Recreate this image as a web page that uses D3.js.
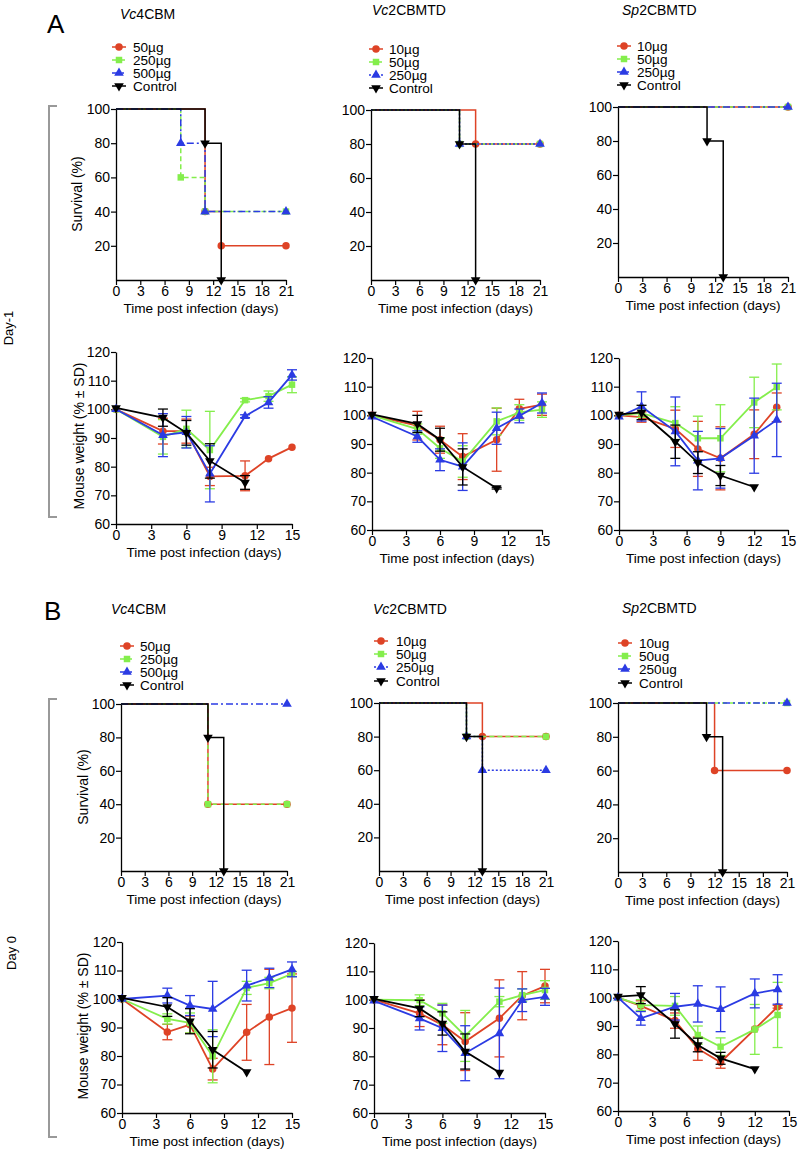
<!DOCTYPE html>
<html><head><meta charset="utf-8">
<script src="https://cdn.jsdelivr.net/npm/d3@7/dist/d3.min.js"></script>
<style>body{margin:0;background:#fff}</style>
</head><body>
<svg id="c" width="812" height="1160"></svg>
<script>
// ---------- DATA ----------
const seriesColors = ["#de4326", "#84ee4c", "#2b3be3", "#000000"];
const markerShapes = ["circle", "square", "triangle", "tdown"];

const survXTicks = [0, 3, 6, 9, 12, 15, 18, 21];
const survYTicks = [20, 40, 60, 80, 100];
const wtXTicks = [0, 3, 6, 9, 12, 15];
const wtYTicks = [60, 70, 80, 90, 100, 110, 120];

const titleItalic = ["Vc", "Vc", "Sp"];
const titleRest = ["4CBM", "2CBMTD", "2CBMTD"];

const legendA1 = ["50µg", "250µg", "500µg", "Control"];
const legendA2 = ["10µg", "50µg", "250µg", "Control"];
const legendA3 = ["10µg", "50µg", "250µg", "Control"];
const legendB1 = ["50µg", "250µg", "500µg", "Control"];
const legendB2 = ["10µg", "50µg", "250µg", "Control"];
const legendB3 = ["10ug", "50ug", "250ug", "Control"];

// survival (day, %) step points
const sA1_red = [[0,100],[11,40],[13,20],[21,20]];
const sA1_green = [[0,100],[8,60],[11,40],[21,40]];
const sA1_blue = [[0,100],[8,80],[11,40],[21,40]];
const sA1_ctrl = [[0,100],[11,80],[13,0]];

const sA2_red = [[0,100],[13,80],[21,80]];
const sA2_green = [[0,100],[11,80],[21,80]];
const sA2_blue = [[0,100],[11,80],[21,80]];
const sA2_ctrl = [[0,100],[11,80],[13,0]];

const sA3_red = [[0,100],[21,100]];
const sA3_green = [[0,100],[21,100]];
const sA3_blue = [[0,100],[21,100]];
const sA3_ctrl = [[0,100],[11,80],[13,0]];

const sB1_red = [[0,100],[11,40],[21,40]];
const sB1_green = [[0,100],[11,40],[21,40]];
const sB1_blue = [[0,100],[21,100]];
const sB1_ctrl = [[0,100],[11,80],[13,0]];

const sB2_red = [[0,100],[13,80],[21,80]];
const sB2_green = [[0,100],[11,80],[21,80]];
const sB2_blue = [[0,100],[11,80],[13,60],[21,60]];
const sB2_ctrl = [[0,100],[11,80],[13,0]];

const sB3_red = [[0,100],[12,60],[21,60]];
const sB3_green = [[0,100],[21,100]];
const sB3_blue = [[0,100],[21,100]];
const sB3_ctrl = [[0,100],[11,80],[13,0]];

// weight: days, means, SDs
const wDaysVc = [0, 4, 6, 8, 11, 13, 15];
const wDaysVcCtrl = [0, 4, 6, 8, 11];
const wDaysSp = [0, 2, 5, 7, 9, 12, 14];
const wDaysSpCtrl = [0, 2, 5, 7, 9, 12];

const wA1_red = [100, 92.4, 92.4, 76.6, 76.8, 82.8, 86.8];
const wA1_redSD = [0, 4.5, 4.2, 3.2, 5.2, 0, 0];
const wA1_green = [100, 90.4, 93.2, 85.8, 103.2, 104.6, 108.6];
const wA1_greenSD = [0, 6, 6.5, 13.5, 0.6, 1.8, 2.8];
const wA1_blue = [100, 91, 92, 77.5, 97.6, 102.4, 112];
const wA1_blueSD = [0, 7.5, 5.5, 9.8, 0.5, 2, 1.8];
const wA1_ctrl = [100.5, 97.1, 91.8, 82, 74.5];
const wA1_ctrlSD = [0, 3, 4.3, 6, 2.4];

const wA2_red = [100, 96.4, 91.5, 85.6, 91.5, 102.3, 103.7];
const wA2_redSD = [0, 5, 4.7, 8, 11, 3.3, 3.7];
const wA2_green = [100, 95.2, 88.5, 83.9, 97.9, 101, 102];
const wA2_greenSD = [0, 1.8, 3.5, 5.5, 4.7, 2.7, 2.7];
const wA2_blue = [99.5, 92.6, 84.5, 82.1, 95.5, 99.8, 104.3];
const wA2_blueSD = [0, 2, 3.8, 8.3, 5.6, 2.4, 3.5];
const wA2_ctrl = [100.3, 97, 91.5, 82, 74.6];
const wA2_ctrlSD = [0, 3, 4, 6.3, 0.3];

const wA3_red = [100, 99.4, 95.3, 88.3, 85, 93.4, 102.8];
const wA3_redSD = [0, 1.8, 6.5, 9.6, 11, 8.5, 5];
const wA3_green = [100, 100.8, 97.3, 92, 92, 104.5, 109.9];
const wA3_greenSD = [0, 1.5, 5.7, 7.7, 11.7, 8.8, 8];
const wA3_blue = [99.5, 103.1, 94.4, 84.2, 85, 92.9, 98.4];
const wA3_blueSD = [0, 5.1, 12, 10.2, 10.4, 13.1, 12.8];
const wA3_ctrl = [100.3, 101, 90.8, 83.5, 79, 75];
const wA3_ctrlSD = [0, 2.5, 5.8, 3.8, 3.5, 0];

const wB1_red = [100, 88.4, 91, 75.4, 88.3, 93.7, 96.8];
const wB1_redSD = [0, 2.7, 3, 3.8, 9.8, 16.7, 12];
const wB1_green = [100, 93, 91.6, 79.9, 103.9, 105.6, 108.8];
const wB1_greenSD = [0, 1.8, 3.5, 9.3, 2.3, 2, 0.9];
const wB1_blue = [100, 101.2, 97.7, 96.5, 104.7, 107.4, 110.4];
const wB1_blueSD = [0, 2.6, 3.5, 9.7, 5.4, 3.4, 2.6];
const wB1_ctrl = [100.4, 97.2, 92.2, 82.2, 74.4];
const wB1_ctrlSD = [0, 3.3, 4.4, 6.4, 0];

const wB2_red = [100, 95.2, 91.1, 85.2, 93.4, 101.4, 104.8];
const wB2_redSD = [0, 4.7, 7, 10.2, 13.6, 8.5, 5.9];
const wB2_green = [100, 99.8, 95.2, 87.2, 99.3, 101.6, 103.4];
const wB2_greenSD = [0, 1.9, 3.5, 9, 1.8, 2.2, 3.3];
const wB2_blue = [99.6, 93.4, 89.9, 81.1, 88.1, 99.8, 101];
const wB2_blueSD = [0, 4.1, 8.2, 9.7, 16, 4, 3];
const wB2_ctrl = [100.3, 96.9, 91.6, 81.7, 74.3];
const wB2_ctrlSD = [0, 2.9, 4.1, 6.2, 0];

const wB3_red = [100, 97.1, 91.9, 82, 77.2, 88.9, 96.8];
const wB3_redSD = [0, 1.8, 2.7, 4.1, 2.1, 0, 0.5];
const wB3_green = [100, 97.4, 97.1, 86.8, 82.7, 88.8, 93.9];
const wB3_greenSD = [0, 1.9, 3.3, 3.2, 3.1, 8.8, 11.5];
const wB3_blue = [100, 92.7, 96.8, 97.8, 95.9, 101.5, 102.9];
const wB3_blueSD = [0, 2.4, 4.7, 6.4, 7.9, 5.1, 5.2];
const wB3_ctrl = [100.4, 100.9, 90.7, 83.3, 78.6, 74.8];
const wB3_ctrlSD = [0, 3, 5, 2.4, 2.1, 0];

// ---------- RENDER ----------
const FONT = "'Liberation Sans', Arial, Helvetica, sans-serif";
const svg = d3.select("#c").attr("font-family", FONT);

function symPath(shape) {
  if (shape === "circle") return d3.symbol(d3.symbolCircle, 44)();
  if (shape === "square") return d3.symbol(d3.symbolSquare, 42)();
  return d3.symbol(d3.symbolTriangle, 40)();
}
function drawMarker(g, shape, cx, cy, color) {
  g.append("path").attr("d", symPath(shape))
    .attr("transform", `translate(${cx},${cy})` + (shape === "tdown" ? " rotate(180)" : ""))
    .attr("fill", color);
}
function styleAxis(sel) {
  sel.attr("font-family", FONT).attr("font-size", 14);
  sel.select(".domain").attr("stroke", "#000").attr("stroke-width", 1.3);
  sel.selectAll(".tick line").attr("stroke", "#000").attr("stroke-width", 1.2);
  sel.selectAll(".tick text").attr("fill", "#000");
}
function xLabel(g, p) {
  g.append("text").attr("x", (p.x0 + p.x1) / 2).attr("y", p.y0 + 33)
    .attr("text-anchor", "middle").attr("font-size", 13.6).text("Time post infection (days)");
}

function survPanel(p) {
  const x = d3.scaleLinear().domain([0, 21]).range([p.x0, p.x1]);
  const y = d3.scaleLinear().domain([0, 100]).range([p.y0, p.y1]);
  const g = svg.append("g");
  g.append("g").attr("transform", `translate(0,${p.y0})`)
    .call(d3.axisBottom(x).tickValues(survXTicks).tickSize(5).tickSizeOuter(0).tickPadding(1)).call(styleAxis);
  g.append("g").attr("transform", `translate(${p.x0},0)`)
    .call(d3.axisLeft(y).tickValues(survYTicks).tickSize(5).tickSizeOuter(0).tickPadding(1)).call(styleAxis);
  const line = d3.line().x(d => x(d[0])).y(d => y(d[1])).curve(d3.curveStepAfter);
  p.data.forEach((s, i) => {
    g.append("path").datum(s).attr("d", line).attr("fill", "none")
      .attr("stroke", seriesColors[i]).attr("stroke-width", 1.5)
      .attr("stroke-dasharray", p.dash[i]);
    s.slice(1).forEach(d => drawMarker(g, markerShapes[i], x(d[0]), y(d[1]), seriesColors[i]));
  });
  xLabel(g, p);
}

function weightPanel(p) {
  const x = d3.scaleLinear().domain([0, 15]).range([p.x0, p.x1]);
  const y = d3.scaleLinear().domain([60, 120]).range([p.y0, p.y1]);
  const g = svg.append("g");
  g.append("g").attr("transform", `translate(0,${p.y0})`)
    .call(d3.axisBottom(x).tickValues(wtXTicks).tickSize(5).tickSizeOuter(0).tickPadding(1)).call(styleAxis);
  g.append("g").attr("transform", `translate(${p.x0},0)`)
    .call(d3.axisLeft(y).tickValues(wtYTicks).tickSize(5).tickSizeOuter(0).tickPadding(1)).call(styleAxis);
  const line = d3.line().x(d => x(d.d)).y(d => y(d.m));
  p.series.forEach((s, i) => {
    const pts = s.days.map((d, k) => ({ d: d, m: s.mean[k], sd: s.sd[k] }));
    const col = seriesColors[i];
    pts.forEach(pt => {
      if (pt.sd > 0) {
        const cx = x(pt.d), yt = y(pt.m + pt.sd), yb = y(pt.m - pt.sd);
        g.append("line").attr("x1", cx).attr("x2", cx).attr("y1", yt).attr("y2", yb).attr("stroke", col).attr("stroke-width", 1.3);
        g.append("line").attr("x1", cx - 5).attr("x2", cx + 5).attr("y1", yt).attr("y2", yt).attr("stroke", col).attr("stroke-width", 1.3);
        g.append("line").attr("x1", cx - 5).attr("x2", cx + 5).attr("y1", yb).attr("y2", yb).attr("stroke", col).attr("stroke-width", 1.3);
      }
    });
    g.append("path").datum(pts).attr("d", line).attr("fill", "none").attr("stroke", col).attr("stroke-width", 1.8);
    pts.forEach(pt => drawMarker(g, markerShapes[i], x(pt.d), y(pt.m), col));
  });
  xLabel(g, p);
}

function legend(l) {
  const g = svg.append("g");
  l.labels.forEach((lab, i) => {
    const ry = l.rows[i];
    g.append("line").attr("x1", l.mx - 7).attr("x2", l.mx + 7).attr("y1", ry).attr("y2", ry)
      .attr("stroke", seriesColors[i]).attr("stroke-width", 1.5).attr("stroke-dasharray", l.dash[i]);
    drawMarker(g, markerShapes[i], l.mx, ry, seriesColors[i]);
    g.append("text").attr("x", l.tx).attr("y", ry).attr("dy", "0.36em").attr("font-size", 13.6).text(lab);
  });
}

function title(x, y, k) {
  const t = svg.append("text").attr("x", x).attr("y", y).attr("font-size", 14);
  t.append("tspan").attr("font-style", "italic").text(titleItalic[k]);
  t.append("tspan").text(titleRest[k]);
}

const dashVc4 = [null, "5,3", "7,3,2,3", null];
const dashVc2 = [null, "5,3", "2,2", null];
const dashSp2 = [null, "5,3", "7,3,2,3", null];
const dashB1 = [null, "4,4", "7,3,2,3", null];

// big letters
svg.append("text").attr("x", 47).attr("y", 33).attr("font-size", 26).text("A");
svg.append("text").attr("x", 44).attr("y", 620).attr("font-size", 26).text("B");

// titles
title(120, 19, 0); title(372, 15, 1); title(622, 15, 2);
title(111, 614, 0); title(373, 614, 1); title(622, 613, 2);

// legends
legend({ labels: legendA1, rows: [47, 60, 73, 86], mx: 119, tx: 133, dash: dashVc4 });
legend({ labels: legendA2, rows: [49, 62, 75, 88], mx: 376, tx: 389, dash: dashVc2 });
legend({ labels: legendA3, rows: [46, 59, 72, 85], mx: 624, tx: 637, dash: dashSp2 });
legend({ labels: legendB1, rows: [646, 659, 672, 685], mx: 127, tx: 140, dash: dashB1 });
legend({ labels: legendB2, rows: [641, 654, 667, 681], mx: 381, tx: 396, dash: dashVc2 });
legend({ labels: legendB3, rows: [643, 656, 669, 683], mx: 625, tx: 639, dash: dashSp2 });

// survival panels
survPanel({ x0: 116, x1: 286, y0: 280, y1: 109, data: [sA1_red, sA1_green, sA1_blue, sA1_ctrl], dash: dashVc4 });
survPanel({ x0: 371, x1: 540, y0: 280, y1: 110, data: [sA2_red, sA2_green, sA2_blue, sA2_ctrl], dash: dashVc2 });
survPanel({ x0: 618, x1: 788, y0: 277, y1: 107, data: [sA3_red, sA3_green, sA3_blue, sA3_ctrl], dash: dashSp2 });
survPanel({ x0: 121, x1: 287, y0: 871, y1: 704, data: [sB1_red, sB1_green, sB1_blue, sB1_ctrl], dash: dashB1 });
survPanel({ x0: 379, x1: 546, y0: 871, y1: 703, data: [sB2_red, sB2_green, sB2_blue, sB2_ctrl], dash: dashVc2 });
survPanel({ x0: 618, x1: 787, y0: 872, y1: 703, data: [sB3_red, sB3_green, sB3_blue, sB3_ctrl], dash: dashSp2 });

// weight panels
function ser(days, mean, sd) { return { days, mean, sd }; }
weightPanel({ x0: 116, x1: 292, y0: 524, y1: 352, series: [
  ser(wDaysVc, wA1_red, wA1_redSD), ser(wDaysVc, wA1_green, wA1_greenSD),
  ser(wDaysVc, wA1_blue, wA1_blueSD), ser(wDaysVcCtrl, wA1_ctrl, wA1_ctrlSD)] });
weightPanel({ x0: 372, x1: 542, y0: 530, y1: 358, series: [
  ser(wDaysVc, wA2_red, wA2_redSD), ser(wDaysVc, wA2_green, wA2_greenSD),
  ser(wDaysVc, wA2_blue, wA2_blueSD), ser(wDaysVcCtrl, wA2_ctrl, wA2_ctrlSD)] });
weightPanel({ x0: 619, x1: 788, y0: 530, y1: 358, series: [
  ser(wDaysSp, wA3_red, wA3_redSD), ser(wDaysSp, wA3_green, wA3_greenSD),
  ser(wDaysSp, wA3_blue, wA3_blueSD), ser(wDaysSpCtrl, wA3_ctrl, wA3_ctrlSD)] });
weightPanel({ x0: 122, x1: 292, y0: 1113, y1: 942, series: [
  ser(wDaysVc, wB1_red, wB1_redSD), ser(wDaysVc, wB1_green, wB1_greenSD),
  ser(wDaysVc, wB1_blue, wB1_blueSD), ser(wDaysVcCtrl, wB1_ctrl, wB1_ctrlSD)] });
weightPanel({ x0: 374, x1: 545, y0: 1113, y1: 943, series: [
  ser(wDaysVc, wB2_red, wB2_redSD), ser(wDaysVc, wB2_green, wB2_greenSD),
  ser(wDaysVc, wB2_blue, wB2_blueSD), ser(wDaysVcCtrl, wB2_ctrl, wB2_ctrlSD)] });
weightPanel({ x0: 618, x1: 789, y0: 1111, y1: 941, series: [
  ser(wDaysSp, wB3_red, wB3_redSD), ser(wDaysSp, wB3_green, wB3_greenSD),
  ser(wDaysSp, wB3_blue, wB3_blueSD), ser(wDaysSpCtrl, wB3_ctrl, wB3_ctrlSD)] });

// y-axis titles
function vText(x, y, txt, size) {
  svg.append("text").attr("transform", `translate(${x},${y}) rotate(-90)`)
    .attr("text-anchor", "middle").attr("font-size", size).text(txt);
}
vText(82, 194, "Survival (%)", 14);
vText(88, 787, "Survival (%)", 14);
vText(84, 436, "Mouse weight (% ± SD)", 14);
vText(88, 1026, "Mouse weight (% ± SD)", 14);
vText(13, 328, "Day-1", 13);
vText(16, 953, "Day 0", 13);

// brackets
function bracket(x, yt, yb) {
  svg.append("path").attr("d", `M${x + 8},${yt} H${x} V${yb} H${x + 8}`)
    .attr("fill", "none").attr("stroke", "#999").attr("stroke-width", 2);
}
bracket(49, 106, 517);
bracket(49, 699, 1137);
</script>
</body></html>
